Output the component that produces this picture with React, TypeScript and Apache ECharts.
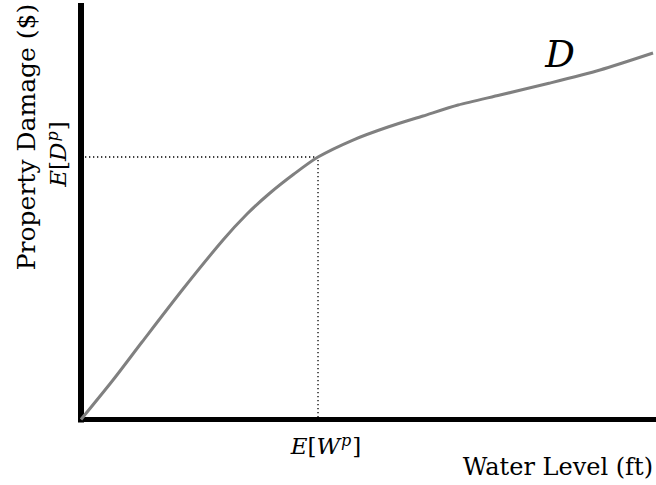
import React, { useEffect, useRef } from "react";
import * as echarts from "echarts";

// Damage curve D(w), in axis units (x: 0..10, y: 0..10)
const curveX = [0, 0.557, 1.061, 1.774, 2.47, 2.887, 3.287, 3.704, 4.122, 4.73, 5.339, 5.948, 6.557, 7.287, 8.157, 9.026, 9.948];
const curveY = [0, 0.955, 1.874, 3.156, 4.341, 4.97, 5.478, 5.937, 6.348, 6.759, 7.074, 7.34, 7.606, 7.848, 8.138, 8.452, 8.863];
// Expected water level and expected damage
const expW = 4.122;
const expD = 6.348;

const xTitle = "Water Level (ft)";
const yTitle = "Property Damage ($)";
const curveName = "D";

const SERIF = "'DejaVu Serif', serif";

export default function App() {
  const ref = useRef<HTMLDivElement>(null);
  useEffect(() => {
    if (!ref.current) return;
    const chart = echarts.init(ref.current, null, { renderer: "svg" });
    const mathRich = {
      i: { fontFamily: SERIF, fontStyle: "italic", fontSize: 23, color: "#000", verticalAlign: "bottom" },
      r: { fontFamily: SERIF, fontSize: 23, color: "#000", verticalAlign: "bottom" },
      s: { fontFamily: SERIF, fontStyle: "italic", fontSize: 16, color: "#000", padding: [0, 1, 9, 1], verticalAlign: "bottom" },
    };
    chart.setOption({
      animation: false,
      grid: { left: 81, right: 0, top: 6, bottom: 65.5 },
      xAxis: {
        type: "value",
        min: 0,
        max: 10,
        axisLine: { show: true, lineStyle: { color: "#000", width: 5, cap: "square" } },
        axisTick: { show: false },
        axisLabel: { show: false },
        splitLine: { show: false },
      },
      yAxis: {
        type: "value",
        min: 0,
        max: 10,
        axisLine: { show: true, lineStyle: { color: "#000", width: 6, cap: "square" } },
        axisTick: { show: false },
        axisLabel: { show: false },
        splitLine: { show: false },
      },
      series: [
        {
          type: "line",
          data: [
            [0, expD],
            [expW, expD],
            [expW, 0],
          ],
          symbol: "none",
          lineStyle: { color: "#000", width: 1.3, type: [1.3, 2.7] },
          z: 1,
        },
        {
          type: "line",
          name: curveName,
          data: curveX.map((x, k) => [x, curveY[k]]),
          smooth: 0.25,
          symbol: "none",
          lineStyle: { color: "#808080", width: 3 },
          z: 2,
        },
      ],
      graphic: [
        {
          type: "text",
          x: 653,
          y: 467,
          style: { text: xTitle, font: `24px ${SERIF}`, fill: "#000", align: "right", verticalAlign: "middle" },
        },
        {
          type: "text",
          x: 26,
          y: 137,
          rotation: Math.PI / 2,
          style: { text: yTitle, font: `25px ${SERIF}`, fill: "#000", align: "center", verticalAlign: "middle" },
        },
        {
          type: "text",
          x: 560,
          y: 54,
          style: { text: curveName, font: `italic 37px ${SERIF}`, fill: "#000", align: "center", verticalAlign: "middle" },
        },
        {
          type: "text",
          x: 326,
          y: 445,
          style: {
            text: "{i|E}{r|[}{i|W}{s|p}{r|]}",
            rich: mathRich,
            align: "center",
            verticalAlign: "middle",
          },
        },
        {
          type: "text",
          x: 57,
          y: 154,
          rotation: Math.PI / 2,
          style: {
            text: "{i|E}{r|[}{i|D}{s|p}{r|]}",
            rich: mathRich,
            align: "center",
            verticalAlign: "middle",
          },
        },
      ],
    });
    return () => chart.dispose();
  }, []);
  return (
    <div
      ref={ref}
      style={{ position: "fixed", left: 0, top: 0, width: 656, height: 485, background: "#fff" }}
    />
  );
}
